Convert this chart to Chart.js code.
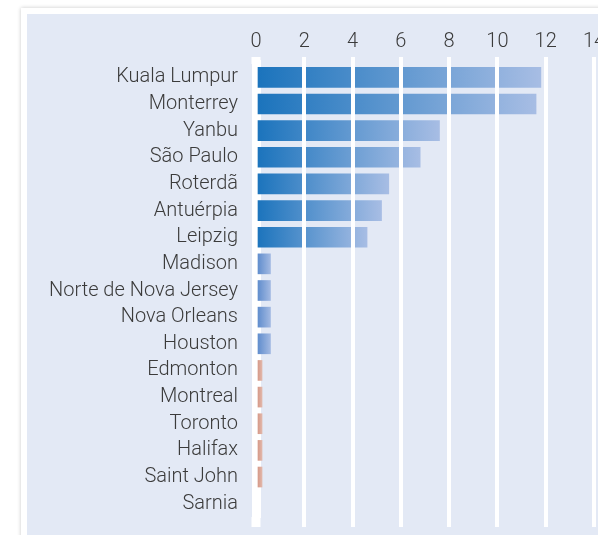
<!DOCTYPE html>
<html>
<head>
<meta charset="utf-8">
<script src="https://cdn.jsdelivr.net/npm/chart.js@4.4.1/dist/chart.umd.min.js"></script>
<style>
  html, body { margin: 0; padding: 0; background: #fff; width: 598px; height: 535px; overflow: hidden; }
  .card { position: absolute; left: 21px; top: 8px; width: 640px; height: 600px; background: #fff; box-shadow: 0 0 4px rgba(0,0,0,0.22); }
  .panel { position: absolute; left: 27px; top: 14px; width: 620px; height: 600px; background: #e3e9f5; }
  .chart-box { position: absolute; left: 27px; top: 14px; width: 590px; height: 521px; }
</style>
</head>
<body>
<div class="card"></div>
<div class="panel"></div>
<div class="chart-box"><canvas id="barChart"></canvas></div>
<script>
const cities = ['Kuala Lumpur', 'Monterrey', 'Yanbu', 'São Paulo', 'Roterdã', 'Antuérpia', 'Leipzig',
  'Madison', 'Norte de Nova Jersey', 'Nova Orleans', 'Houston',
  'Edmonton', 'Montreal', 'Toronto', 'Halifax', 'Saint John', 'Sarnia'];
const values = [11.8, 11.6, 7.6, 6.8, 5.5, 5.2, 4.6, 0.6, 0.6, 0.6, 0.6, 0.25, 0.25, 0.25, 0.25, 0.25, 0];
const groups = ['blue', 'blue', 'blue', 'blue', 'blue', 'blue', 'blue', 'blue', 'blue', 'blue', 'blue',
  'red', 'red', 'red', 'red', 'red', 'red'];
const xTicks = [0, 2, 4, 6, 8, 10, 12, 14];

const textColor = '#3b3b3b';
const labelFont = { family: 'Roboto', size: 20, weight: '300' };

// horizontal gradient per bar, from the zero line to the bar end
function barFill(ctx) {
  const chart = ctx.chart;
  const i = ctx.dataIndex;
  const red = groups[i] === 'red';
  if (!values[i]) return 'rgba(0,0,0,0)';
  const area = chart.chartArea;
  if (!area) return red ? '#d99d8d' : '#5f8fcf';
  const xs = chart.scales.x;
  const x0 = xs.getPixelForValue(0);
  const x1 = xs.getPixelForValue(values[i]);
  const g = chart.ctx.createLinearGradient(x0, 0, x1, 0);
  if (red) {
    g.addColorStop(0, '#d08c79');
    g.addColorStop(1, '#e2b7aa');
  } else if (values[i] < 1) {
    g.addColorStop(0, '#5787ca');
    g.addColorStop(1, '#a2b9e2');
  } else {
    g.addColorStop(0, '#1a73bc');
    g.addColorStop(1, '#a7bde4');
  }
  return g;
}

const gridOpts = (len) => ({
  z: 1,
  color: (c) => c.index === 0 ? 'rgba(0,0,0,0)' : '#ffffff',
  lineWidth: 4,
  tickColor: '#ffffff',
  tickWidth: (c) => c.index === 0 ? 9 : 4,
  tickLength: len,
  drawTicks: true
});

const setTicks = (scale) => { scale.ticks = xTicks.map(v => ({ value: v })); };

new Chart(document.getElementById('barChart'), {
  type: 'bar',
  data: {
    labels: cities,
    datasets: [{
      data: values,
      backgroundColor: barFill,
      borderWidth: 0,
      barThickness: 20
    }]
  },
  options: {
    indexAxis: 'y',
    responsive: true,
    maintainAspectRatio: false,
    animation: false,
    layout: { padding: { left: 0, right: 23, top: 0, bottom: 8 } },
    plugins: { legend: { display: false }, tooltip: { enabled: false } },
    scales: {
      x: {
        type: 'linear',
        position: 'top',
        min: 0,
        max: 14,
        afterBuildTicks: setTicks,
        afterFit: (s) => { s.height = 50; s.paddingLeft = 0; s.paddingRight = 0; },
        grid: gridOpts(7),
        border: { display: false },
        ticks: { color: textColor, font: labelFont, padding: 3, maxRotation: 0 }
      },
      x2: {
        type: 'linear',
        position: 'bottom',
        min: 0,
        max: 14,
        afterBuildTicks: setTicks,
        afterFit: (s) => { s.height = 10; s.paddingLeft = 0; s.paddingRight = 0; },
        grid: gridOpts(10),
        border: { display: false },
        ticks: { display: false }
      },
      y: {
        afterFit: (s) => { s.width = 229; s.paddingTop = 0; s.paddingBottom = 0; },
        grid: { display: false },
        border: { display: true, color: '#ffffff', width: 9 },
        ticks: { color: textColor, font: labelFont, padding: 10, autoSkip: false }
      }
    }
  }
});
</script>
</body>
</html>
